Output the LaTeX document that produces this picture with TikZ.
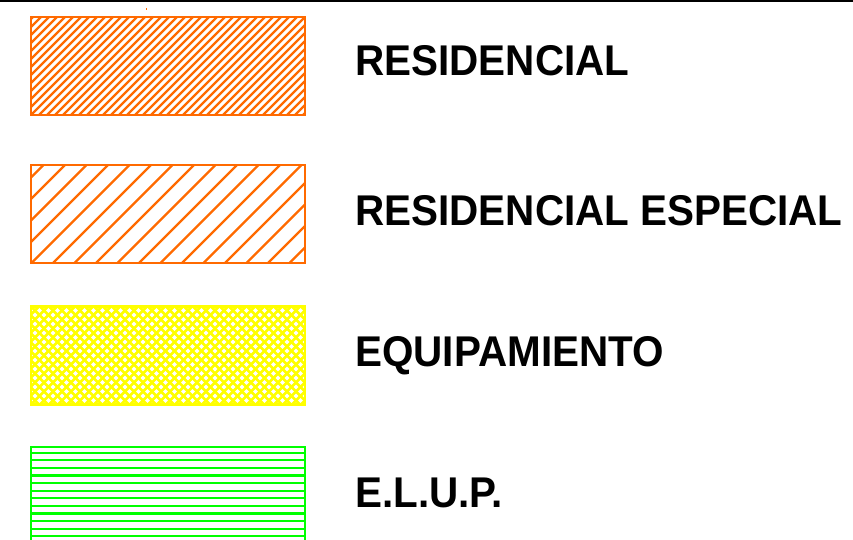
\documentclass[tikz,border=0pt]{standalone}
\usepackage{fontspec}
\setmainfont{Liberation Sans}
\newfontfamily\legendfont{Liberation Sans Bold}[FakeStretch=0.94]
\usetikzlibrary{positioning}

\definecolor{resorange}{RGB}{255,106,0}
\definecolor{equyellow}{RGB}{255,255,0}
\definecolor{elupgreen}{RGB}{0,255,0}

\begin{document}
\begin{tikzpicture}[node distance=49pt, swatch/.style={
        rectangle,
        draw,
        line width=2.3pt,
        minimum width=274pt,
        minimum height=98pt,
        inner sep=0pt
    }, hatchfine/.style={
        swatch, draw=resorange,
        path picture={
            \foreach \i in {-104,-96,...,280}
                \draw[resorange, line width=2.2pt]
                    ([xshift=\i pt]path picture bounding box.south west) -- ++(110pt,110pt);
        }
    }, hatchwide/.style={
        swatch, draw=resorange,
        path picture={
            \foreach \i in {-107,-85.5,...,280}
                \draw[resorange, line width=2.2pt]
                    ([xshift=\i pt]path picture bounding box.south west) -- ++(110pt,110pt);
        }
    }, hatchcross/.style={
        swatch, draw=equyellow,
        path picture={
            \foreach \i in {-108,-99,...,280} {
                \draw[equyellow, line width=2.6pt]
                    ([xshift=\i pt]path picture bounding box.south west) -- ++(110pt,110pt);
                \draw[equyellow, line width=2.6pt]
                    ([xshift=\i pt]path picture bounding box.north west) -- ++(110pt,-110pt);
            }
        }
    }, hatchlines/.style={
        swatch, draw=elupgreen,
        path picture={
            \foreach \j in {0,...,13}
                \draw[elupgreen, line width=2.2pt]
                    ([yshift={-5.7pt-7.6pt*\j}]path picture bounding box.north west) -- ++(274pt,0);
        }
    }, legend/.style={
        font=\fontsize{43}{46}\legendfont,
        inner sep=0pt,
        anchor=base west,
        yshift=-11pt
    }]
    \useasboundingbox (0,0) rectangle (853pt,-540pt);
    \draw[line width=2.8pt] (0,-1pt) -- (853pt,-1pt);
    \draw[resorange, line width=1pt] (146pt,-8pt) -- (146pt,-10pt);

    \node (res) [hatchfine] at (168pt,-66pt) {};
    \node (resesp) [hatchwide] at (168pt,-214pt) {};
    \node (equip) [hatchcross] at (168pt,-355.5pt) {};
    \node (elup) [hatchlines] at (168pt,-496pt) {};

    \node (resText) [legend, right=of res.east, anchor=base west, yshift=1pt] {RESIDENCIAL};
    \node (resespText) [legend, right=of resesp.east, anchor=base west] {RESIDENCIAL ESPECIAL};
    \node (equipText) [legend, right=of equip.east, anchor=base west] {EQUIPAMIENTO};
    \node (elupText) [legend, right=of elup.east, anchor=base west] {E.L.U.P.};

\end{tikzpicture}
\end{document}
